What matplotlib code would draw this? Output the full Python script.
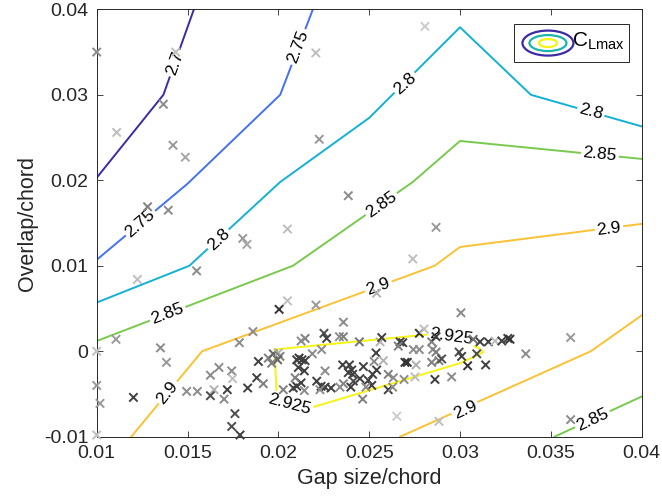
import matplotlib
matplotlib.use('Agg')
import matplotlib.pyplot as plt
from matplotlib.patches import Ellipse, Rectangle

plt.rcParams['font.family'] = ['Liberation Sans', 'DejaVu Sans']
plt.rcParams['mathtext.fontset'] = 'custom'
plt.rcParams['mathtext.rm'] = 'Liberation Sans'
plt.rcParams['mathtext.it'] = 'Liberation Sans'

# contour lines of CLmax
c270_x = [0.0100, 0.01367, 0.01535]
c270_y = [0.0203, 0.0300, 0.0400]
c275_x = [0.0100, 0.0150, 0.0201, 0.0219]
c275_y = [0.0107, 0.0196, 0.0300, 0.0400]
c280_x = [0.0100, 0.0151, 0.0201, 0.0250, 0.0300, 0.0339, 0.0400]
c280_y = [0.0057, 0.0100, 0.0198, 0.0273, 0.0379, 0.0300, 0.0263]
c285a_x = [0.0100, 0.0208, 0.0274, 0.0300, 0.0400]
c285a_y = [0.0012, 0.0100, 0.0198, 0.0246, 0.0225]
c285b_x = [0.0352, 0.0400]
c285b_y = [-0.0100, -0.0053]
c290a_x = [0.0119, 0.0158, 0.0286, 0.0300, 0.0400]
c290a_y = [-0.0100, 0.0000, 0.0100, 0.0122, 0.0149]
c290b_x = [0.0267, 0.0372, 0.0400]
c290b_y = [-0.0100, 0.0000, 0.0042]
c2925_x = [0.0198, 0.0289, 0.0310, 0.0313, 0.0300, 0.0218, 0.0199, 0.0198]
c2925_y = [0.0002, 0.0021, 0.0004, -0.0001, -0.0014, -0.0066, -0.0055, 0.0002]

# contour labels: text, x, y, angle
lab_txt = ['2.7', '2.75', '2.75', '2.8', '2.8', '2.8', '2.85', '2.85', '2.85', '2.85',
           '2.9', '2.9', '2.9', '2.9', '2.925', '2.925']
lab_x = [0.0143, 0.0124, 0.0211, 0.0167, 0.0270, 0.0372, 0.0139, 0.0257, 0.0377, 0.0373,
         0.0139, 0.0255, 0.0382, 0.0303, 0.0295, 0.0206]
lab_y = [0.0337, 0.0150, 0.0356, 0.0131, 0.0313, 0.0280, 0.0044, 0.0171, 0.0230, -0.0080,
         -0.0048, 0.0076, 0.0143, -0.0069, 0.0017, -0.0062]
lab_rot = [70, 41, 69, 43, 42, -15, 21, 35, -6, 25, 51, 20, 7, 24, -8, -15]

# experiments (gap, overlap, grey level)
gap = [0.0100, 0.0111, 0.01367, 0.01435, 0.0142, 0.01488, 0.0128, 0.01394, 0.02206, 0.02225,
       0.02385, 0.0205, 0.01804, 0.01827, 0.02807, 0.02868, 0.01224, 0.0155, 0.0274, 0.02541,
       0.0205, 0.02207, 0.02004, 0.03005, 0.02358,
       0.01106, 0.0100, 0.01351, 0.01384, 0.0100, 0.01018, 0.01202, 0.0100, 0.01495, 0.01554,
       0.01626, 0.01673, 0.01646, 0.01626, 0.01701, 0.01719, 0.01743, 0.01748, 0.01761, 0.01743,
       0.01789, 0.01785, 0.0186, 0.01831, 0.01881, 0.01917, 0.0189, 0.01945, 0.01963, 0.01972,
       0.0200, 0.02009, 0.01996, 0.02147, 0.02125, 0.02251, 0.02266, 0.02238, 0.02187, 0.02114,
       0.02101, 0.0213, 0.02147, 0.0211, 0.02143, 0.02027, 0.02082, 0.02101, 0.02125, 0.02143,
       0.02092, 0.02211, 0.02235, 0.02257, 0.0229, 0.02229, 0.02257,
       0.02336, 0.02358, 0.02446, 0.0256, 0.02569, 0.0267, 0.02685, 0.0266, 0.02776, 0.02802,
       0.02844, 0.02868, 0.02743, 0.02776, 0.0285, 0.02868, 0.02538, 0.02527, 0.02578, 0.02541,
       0.02519, 0.02354, 0.02391, 0.02404, 0.02385, 0.02409, 0.02468, 0.02449, 0.02413, 0.02399,
       0.02358, 0.02339, 0.02495, 0.02514, 0.02482, 0.02605, 0.02633, 0.02697, 0.0271, 0.02758,
       0.02844, 0.02692, 0.02752, 0.02605, 0.02629, 0.02464, 0.02652, 0.02862,
       0.03073, 0.0311, 0.03156, 0.03193, 0.0323, 0.03263, 0.03275, 0.03362, 0.02884, 0.02899,
       0.02995, 0.03009, 0.03042, 0.03092, 0.03141, 0.02954, 0.02884, 0.03609, 0.03609]
overlap = [0.0350, 0.0256, 0.0289, 0.0350, 0.0241, 0.0227, 0.0169, 0.0165, 0.0349, 0.0248,
           0.0182, 0.0143, 0.0132, 0.0125, 0.0380, 0.0145, 0.0084, 0.0094, 0.0108, 0.0068,
           0.0059, 0.0054, 0.0049, 0.0045, 0.0034,
           0.0014, 0.0000, 0.0004, -0.0013, -0.0040, -0.0061, -0.0054, -0.0098, -0.0047, -0.0047,
           -0.0028, -0.0019, -0.0045, -0.0052, -0.0056, -0.0045, -0.0023, -0.0032, -0.0073, -0.0088,
           -0.0098, 0.0010, 0.0023, -0.0043, -0.0031, -0.0038, -0.0012, -0.0008, -0.0014, -0.0003,
           -0.0002, -0.0006, -0.0010, 0.0015, 0.0012, 0.0021, 0.0015, 0.0002, -0.0003, -0.0008,
           -0.0010, -0.0010, -0.0011, -0.0019, -0.0023, -0.0045, -0.0043, -0.0041, -0.0037, -0.0046,
           -0.0031, -0.0035, -0.0041, -0.0042, -0.0043, -0.0045, -0.0023,
           0.0017, 0.0017, 0.0011, 0.0011, 0.0016, 0.0011, 0.0010, 0.0006, 0.0021, 0.0026,
           0.0011, 0.0017, 0.0002, 0.0002, 0.0002, -0.0001, -0.0002, -0.0012, -0.0011, -0.0022,
           -0.0027, -0.0016, -0.0016, -0.0022, -0.0025, -0.0027, -0.0018, -0.0032, -0.0035, -0.0042,
           -0.0038, -0.0042, -0.0034, -0.0040, -0.0042, -0.0027, -0.0031, -0.0013, -0.0013, -0.0016,
           -0.0013, -0.0033, -0.0030, -0.0045, -0.0042, -0.0056, -0.0076, -0.0033,
           0.0014, 0.0011, 0.0011, 0.0012, 0.0012, 0.0015, 0.0014, -0.0003, -0.0011, -0.0009,
           -0.0001, -0.0006, -0.0017, -0.0003, -0.0016, -0.0030, -0.0082, 0.0016, -0.0080]
grey = [0.55, 0.75, 0.55, 0.75, 0.6, 0.65, 0.5, 0.55, 0.75, 0.6,
        0.55, 0.75, 0.6, 0.65, 0.8, 0.6, 0.75, 0.55, 0.75, 0.7,
        0.75, 0.6, 0.2, 0.55, 0.55,
        0.6, 0.75, 0.55, 0.6, 0.6, 0.6, 0.25, 0.75, 0.55, 0.55,
        0.55, 0.55, 0.7, 0.3, 0.55, 0.25, 0.55, 0.75, 0.3, 0.3,
        0.25, 0.55, 0.55, 0.25, 0.25, 0.5, 0.25, 0.5, 0.5, 0.4,
        0.7, 0.5, 0.4, 0.5, 0.55, 0.3, 0.25, 0.55, 0.55, 0.2,
        0.25, 0.25, 0.25, 0.25, 0.25, 0.5, 0.25, 0.25, 0.25, 0.55,
        0.5, 0.25, 0.25, 0.25, 0.25, 0.55, 0.55,
        0.55, 0.5, 0.45, 0.7, 0.25, 0.25, 0.25, 0.5, 0.2, 0.75,
        0.5, 0.25, 0.55, 0.55, 0.55, 0.5, 0.25, 0.55, 0.7, 0.25,
        0.25, 0.25, 0.25, 0.25, 0.25, 0.25, 0.25, 0.25, 0.3, 0.25,
        0.5, 0.55, 0.25, 0.25, 0.55, 0.5, 0.55, 0.2, 0.2, 0.7,
        0.5, 0.55, 0.75, 0.25, 0.55, 0.5, 0.8, 0.25,
        0.45, 0.25, 0.25, 0.75, 0.25, 0.25, 0.2, 0.55, 0.5, 0.3,
        0.3, 0.25, 0.2, 0.3, 0.25, 0.55, 0.75, 0.6, 0.55]

xticks = [0.01, 0.015, 0.02, 0.025, 0.03, 0.035, 0.04]
xticklabels = ['0.01', '0.015', '0.02', '0.025', '0.03', '0.035', '0.04']
yticks = [-0.01, 0, 0.01, 0.02, 0.03, 0.04]
yticklabels = ['-0.01', '0', '0.01', '0.02', '0.03', '0.04']

col = {2.7: '#3d2aa6', 2.75: '#4470f2', 2.8: '#14b1d4', 2.85: '#79c94f',
       2.9: '#fbc235', 2.925: '#f6f413'}
ink = '#262626'

fig = plt.figure(figsize=(6.62, 5.01), dpi=100)
ax = fig.add_axes([0.1461, 0.1283, 0.8232, 0.8531])

lw = 1.4
ax.plot(c270_x, c270_y, color=col[2.7], lw=lw, zorder=2)
ax.plot(c275_x, c275_y, color=col[2.75], lw=lw, zorder=2)
ax.plot(c280_x, c280_y, color=col[2.8], lw=lw, zorder=2)
ax.plot(c285a_x, c285a_y, color=col[2.85], lw=lw, zorder=2)
ax.plot(c285b_x, c285b_y, color=col[2.85], lw=lw, zorder=2)
ax.plot(c290a_x, c290a_y, color=col[2.9], lw=lw, zorder=2)
ax.plot(c290b_x, c290b_y, color=col[2.9], lw=lw, zorder=2)
ax.plot(c2925_x, c2925_y, color=col[2.925], lw=lw, zorder=2)

for t, x, y, r in zip(lab_txt, lab_x, lab_y, lab_rot):
    ax.text(x, y, t, rotation=r, rotation_mode='anchor', ha='center', va='center',
            fontsize=12.5, color='black', zorder=3,
            bbox=dict(boxstyle='square,pad=0.12', fc='white', ec='none'))

ax.scatter(gap, overlap, marker='x', s=36, linewidths=1.4,
           c=[(g, g, g) for g in grey], zorder=4, clip_on=False)

ax.set_xlim(0.01, 0.04)
ax.set_ylim(-0.01, 0.04)
ax.set_xticks(xticks)
ax.set_xticklabels(xticklabels)
ax.set_yticks(yticks)
ax.set_yticklabels(yticklabels)
ax.tick_params(direction='in', top=True, right=True, length=4, width=0.6,
               labelsize=14, colors=ink, pad=6)
for s in ax.spines.values():
    s.set_color(ink)
    s.set_linewidth(0.7)
ax.set_xlabel('Gap size/chord', fontsize=15.5, color=ink, labelpad=4)
ax.set_ylabel('Overlap/chord', fontsize=15.5, color=ink, labelpad=4)

# legend box drawn by hand (MATLAB style contour icon)
ax.add_patch(Rectangle((0.7657, 0.8774), 0.2104, 0.0882, transform=ax.transAxes,
                       fc='white', ec=ink, lw=0.7, zorder=5))
ax.add_patch(Ellipse((0.828, 0.921), 0.0936, 0.0585, transform=ax.transAxes,
                     fill=False, ec=col[2.7], lw=1.6, zorder=6))
ax.add_patch(Ellipse((0.828, 0.921), 0.0679, 0.0374, transform=ax.transAxes,
                     fill=False, ec='#1fb3a9', lw=1.6, zorder=6))
ax.add_patch(Ellipse((0.828, 0.921), 0.0330, 0.0187, transform=ax.transAxes,
                     fill=False, ec=col[2.925], lw=1.6, zorder=6))
ax.text(0.872, 0.925, r'C$_{\mathrm{Lmax}}$', transform=ax.transAxes, fontsize=15,
        ha='left', va='center', color='black', zorder=6)

fig.savefig('out.png', dpi=100)
